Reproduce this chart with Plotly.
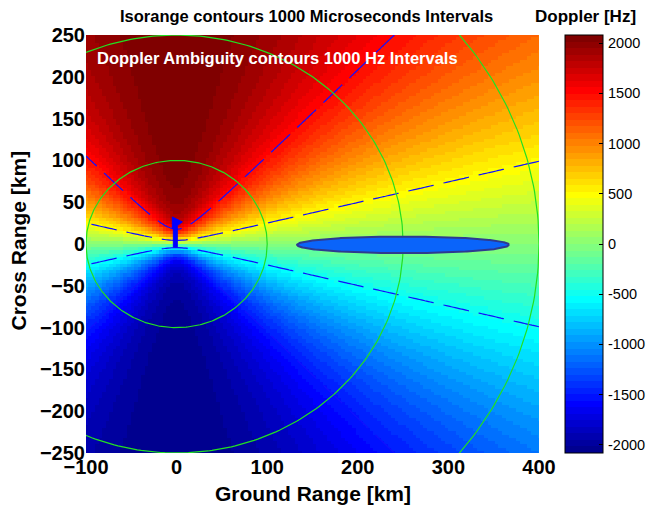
import numpy as np
import plotly.graph_objects as go

# ---------------- data / scene parameters ----------------
GROUND_RANGE_KM = np.linspace(-100, 400, 128)      # grid of the doppler image
CROSS_RANGE_KM = np.linspace(-250, 250, 128)
MAX_DOPPLER_HZ = 2083.0                              # doppler along velocity vector
PLATFORM_ALT_KM = 17.0                               # platform altitude
ISORANGE_RADII_KM = [100, 250, 400]                  # 1000 us isorange rings
AMBIGUITY_LEVELS_HZ = [-1500, -500, 500, 1500]       # 1000 Hz doppler ambiguities
TARGET_CENTER_KM = (250.0, -1.0)                     # illuminated footprint
TARGET_SEMI_AXES_KM = (117.0, 10.0)
ARROW_X_KM = [-3.6, 0.8, 0.8, 6.3, -4.7, -4.7, -3.6, -3.6]
ARROW_Y_KM = [-3.5, -3.5, 22.0, 26.4, 32.4, 18.5, 18.5, -3.5]
X_TICKS = [-100, 0, 100, 200, 300, 400]
Y_TICKS = [-250, -200, -150, -100, -50, 0, 50, 100, 150, 200, 250]
CB_TICKS = [-2000, -1500, -1000, -500, 0, 500, 1000, 1500, 2000]

# doppler field
XX, YY = np.meshgrid(GROUND_RANGE_KM, CROSS_RANGE_KM)
DOPPLER = MAX_DOPPLER_HZ * YY / np.sqrt(XX**2 + YY**2 + PLATFORM_ALT_KM**2)


# ---------------- MATLAB jet(64) discrete colorscale ----------------
def jet(m=64):
    n = int(np.ceil(m / 4))
    u = np.concatenate([np.arange(1, n + 1) / n, np.ones(n - 1), np.arange(n, 0, -1) / n])
    g = int(np.ceil(n / 2)) - (1 if m % 4 == 1 else 0) + np.arange(1, len(u) + 1)
    r = g + n
    b = g - n
    J = np.zeros((m, 3))
    mr = r <= m
    J[r[mr] - 1, 0] = u[mr]
    mg = g <= m
    J[g[mg] - 1, 1] = u[mg]
    mb = b > 0
    J[b[mb] - 1, 2] = u[mb]
    return J


J = jet(64)
cscale = []
for i, c in enumerate(J):
    col = "rgb(%d,%d,%d)" % tuple(np.round(c * 255).astype(int))
    cscale.append([i / 64, col])
    cscale.append([(i + 1) / 64, col])

FONT = "Liberation Sans, Arial, Helvetica, sans-serif"

L, T = 86, 35
PW, PH = 453, 418
W, H = 650, 507


def px(xp):
    return (xp - L) / PW


def py(yp):
    return (T + PH - yp) / PH


CB_LEFT = 565

fig = go.Figure()

fig.add_trace(go.Heatmap(
    x=GROUND_RANGE_KM, y=CROSS_RANGE_KM, z=DOPPLER,
    colorscale=cscale, zmin=-MAX_DOPPLER_HZ, zmax=MAX_DOPPLER_HZ, zsmooth=False,
    hoverinfo="skip",
    colorbar=dict(
        x=px(CB_LEFT), xanchor="left", xpad=0, ypad=0,
        y=0.5, yanchor="middle", len=1.0, lenmode="fraction",
        thickness=38, thicknessmode="pixels",
        outlinecolor="black", outlinewidth=1,
        tickvals=CB_TICKS, ticks="inside", ticklen=4, tickcolor="black",
        showticklabels=False,
    ),
))

# doppler ambiguity contours
fig.add_trace(go.Contour(
    x=GROUND_RANGE_KM, y=CROSS_RANGE_KM, z=DOPPLER,
    contours=dict(start=min(AMBIGUITY_LEVELS_HZ), end=max(AMBIGUITY_LEVELS_HZ),
                  size=1000, coloring="none"),
    line=dict(color="#1010ff", width=1.2, dash="26px,10px"),
    showscale=False, hoverinfo="skip",
))

# isorange circles
t = np.linspace(0, 2 * np.pi, 361)
for R in ISORANGE_RADII_KM:
    fig.add_trace(go.Scatter(
        x=R * np.cos(t), y=R * np.sin(t), mode="lines",
        line=dict(color="#22e022", width=1.2), hoverinfo="skip", showlegend=False,
    ))

# footprint ellipse
fig.add_trace(go.Scatter(
    x=TARGET_CENTER_KM[0] + TARGET_SEMI_AXES_KM[0] * np.cos(t),
    y=TARGET_CENTER_KM[1] + TARGET_SEMI_AXES_KM[1] * np.sin(t),
    mode="lines", fill="toself", fillcolor="#0a64fa",
    line=dict(color="#2e3a90", width=2), hoverinfo="skip", showlegend=False,
))

# velocity arrow
fig.add_trace(go.Scatter(
    x=ARROW_X_KM, y=ARROW_Y_KM, mode="lines", fill="toself", fillcolor="#0000ff",
    line=dict(color="#0000ff", width=1), hoverinfo="skip", showlegend=False,
))

annotations = [
    dict(text="Isorange contours 1000 Microseconds Intervals", xref="paper", yref="paper",
         x=px(306.5), y=py(16), xanchor="center", yanchor="middle",
         showarrow=False, font=dict(family=FONT, size=16.5, weight="bold", color="black")),
    dict(text="Doppler [Hz]", xref="paper", yref="paper",
         x=px(585), y=py(16), xanchor="center", yanchor="middle",
         showarrow=False, font=dict(family=FONT, size=17, weight="bold", color="black")),
    dict(text="Doppler Ambiguity contours 1000 Hz Intervals", xref="x", yref="y",
         x=-90, y=222, xanchor="left", yanchor="middle",
         showarrow=False, font=dict(family=FONT, size=16.5, weight="bold", color="white")),
    dict(text="Ground Range [km]", xref="paper", yref="paper",
         x=px(313), y=py(493), xanchor="center", yanchor="middle",
         showarrow=False, font=dict(family=FONT, size=21, weight="bold", color="black")),
    dict(text="Cross Range [km]", xref="paper", yref="paper", textangle=-90,
         x=px(17.5), y=py(241), xanchor="center", yanchor="middle",
         showarrow=False, font=dict(family=FONT, size=21, weight="bold", color="black")),
]

# colorbar tick labels and left-side tick marks
shapes = []
for v in CB_TICKS:
    yf = (v + MAX_DOPPLER_HZ) / (2 * MAX_DOPPLER_HZ)
    annotations.append(dict(
        text=str(v), xref="paper", yref="paper", x=px(606), y=yf,
        xanchor="left", yanchor="middle", showarrow=False,
        font=dict(family=FONT, size=14.5, color="black")))
    shapes.append(dict(
        type="line", xref="paper", yref="paper",
        x0=px(CB_LEFT), x1=px(CB_LEFT + 4), y0=yf, y1=yf,
        line=dict(color="black", width=1)))

fig.update_layout(
    width=W, height=H,
    margin=dict(l=L, r=W - L - PW, t=T, b=H - T - PH, autoexpand=False),
    paper_bgcolor="white", plot_bgcolor="white",
    showlegend=False,
    font=dict(family=FONT, color="black"),
    xaxis=dict(range=[-100, 400], tickvals=X_TICKS, ticks="", showgrid=False,
               zeroline=False, showline=False,
               tickfont=dict(family=FONT, size=20, weight="bold", color="black")),
    yaxis=dict(range=[-250, 250], tickvals=Y_TICKS, ticks="", showgrid=False,
               zeroline=False, showline=False,
               tickfont=dict(family=FONT, size=20, weight="bold", color="black")),
    annotations=annotations,
    shapes=shapes,
)

# remove the default page margin so the figure fills the 650x507 window exactly
fig.write_html(
    "out.html",
    config={"displayModeBar": False},
    post_script="document.body.style.margin='0';document.body.style.overflow='hidden';",
)
